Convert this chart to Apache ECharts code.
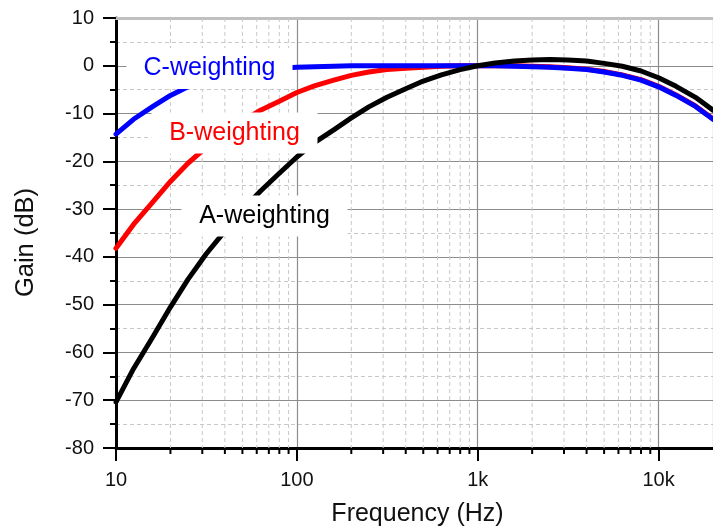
<!DOCTYPE html>
<html>
<head>
<meta charset="utf-8">
<script src="https://cdn.jsdelivr.net/npm/echarts@6/dist/echarts.min.js"></script>
<style>
  html, body { margin: 0; padding: 0; background: #fff; }
  #chart { width: 713px; height: 530px; }
</style>
</head>
<body>
<div id="chart"></div>
<script>
// One-third-octave band centre frequencies (Hz)
const freqs = [10, 12.5, 16, 20, 25, 31.5, 40, 50, 63, 80, 100, 125, 160, 200, 250, 315,
  400, 500, 630, 800, 1000, 1250, 1600, 2000, 2500, 3150, 4000, 5000, 6300, 8000,
  10000, 12500, 16000, 20000];

// Relative gain of each weighting curve (dB)
const aWeighting = [-70.4, -63.4, -56.7, -50.5, -44.7, -39.4, -34.6, -30.2, -26.2, -22.5,
  -19.1, -16.1, -13.4, -10.9, -8.6, -6.6, -4.8, -3.2, -1.9, -0.8,
  0, 0.6, 1.0, 1.2, 1.3, 1.2, 1.0, 0.5, -0.1, -1.1,
  -2.5, -4.3, -6.6, -9.3];
const bWeighting = [-38.2, -33.2, -28.5, -24.2, -20.4, -17.1, -14.2, -11.6, -9.3, -7.4,
  -5.6, -4.2, -3.0, -2.0, -1.3, -0.8, -0.5, -0.3, -0.1, 0,
  0, 0, 0, -0.1, -0.2, -0.4, -0.7, -1.2, -1.9, -2.9,
  -4.3, -6.1, -8.4, -11.1];
const cWeighting = [-14.3, -11.2, -8.5, -6.2, -4.4, -3.0, -2.0, -1.3, -0.8, -0.5,
  -0.3, -0.2, -0.1, 0, 0, 0, 0, 0, 0, 0,
  0, 0, -0.1, -0.2, -0.3, -0.5, -0.8, -1.3, -2.0, -3.0,
  -4.4, -6.2, -8.5, -11.2];

// Minor log-axis positions (2..9 in each decade)
const minorFreqs = [20, 30, 40, 50, 60, 70, 80, 90,
  200, 300, 400, 500, 600, 700, 800, 900,
  2000, 3000, 4000, 5000, 6000, 7000, 8000, 9000];

const xMin = 10, xMax = 20000, yMin = -80, yMax = 10;
const FONT = 'Liberation Sans, Arial, sans-serif';

const pairs = arr => freqs.map((f, i) => [f, arr[i]]);

const chart = echarts.init(document.getElementById('chart'), null, { renderer: 'canvas' });

// White-backed curve caption
function labelBox(cx, cy, text, color) {
  return {
    type: 'group', z: 100,
    children: [
      { type: 'rect', shape: { x: cx - 83, y: cy - 20.5, width: 166, height: 41 },
        style: { fill: '#fff' }, z: 100 },
      { type: 'text', x: cx, y: cy, z: 101,
        style: { text: text, fill: color, font: '25px ' + FONT, align: 'center', verticalAlign: 'middle' } }
    ]
  };
}

chart.setOption({
  animation: false,
  backgroundColor: '#fff',
  grid: { left: 116, right: -4.5, top: 18, bottom: 82, containLabel: false },
  xAxis: [{
    type: 'log', logBase: 10, min: xMin, max: xMax,
    axisLine: { show: true, onZero: false, lineStyle: { color: '#000', width: 3 } },
    axisTick: { show: true, length: 13, lineStyle: { color: '#000', width: 2 } },
    axisLabel: {
      margin: 22, fontSize: 20, color: '#111', fontFamily: FONT, showMaxLabel: false,
      formatter: v => v >= 1000 ? (v / 1000) + 'k' : String(v)
    },
    splitLine: { show: true, lineStyle: { color: '#8c8c8c', width: 1.2 } }
  }, {
    type: 'log', logBase: 10, min: xMin, max: xMax, position: 'top',
    axisLine: { show: true, onZero: false, lineStyle: { color: '#c0c0c0', width: 3 } },
    axisTick: { show: false }, axisLabel: { show: false }, splitLine: { show: false }
  }],
  yAxis: {
    type: 'value', min: yMin, max: yMax, interval: 10,
    axisLine: { show: true, onZero: false, lineStyle: { color: '#000', width: 3 } },
    axisTick: { show: true, length: 13, lineStyle: { color: '#000', width: 2 } },
    minorTick: { show: true, splitNumber: 2, length: 6, lineStyle: { color: '#000', width: 2 } },
    axisLabel: { margin: 22, fontSize: 20, color: '#111', fontFamily: FONT },
    splitLine: { show: true, lineStyle: { color: '#8c8c8c', width: 1.2 } },
    minorSplitLine: { show: true, lineStyle: { color: '#c8c8c8', width: 1, type: [4, 3] } }
  },
  graphic: [
    { type: 'text', x: 417.5, y: 514, z: 50,
      style: { text: 'Frequency (Hz)', fill: '#111', font: '25px ' + FONT, align: 'center', verticalAlign: 'middle' } },
    { type: 'text', x: 26, y: 242.5, rotation: Math.PI / 2, z: 50,
      style: { text: 'Gain (dB)', fill: '#111', font: '25.5px ' + FONT, align: 'center', verticalAlign: 'middle' } },
    labelBox(209.5, 68.5, 'C-weighting', '#0000ff'),
    labelBox(234.5, 133, 'B-weighting', '#ff0000'),
    labelBox(264.5, 216, 'A-weighting', '#000000')
  ],
  series: [
    {
      // minor vertical grid lines and minor ticks on the frequency axis
      type: 'custom', xAxisIndex: 0, z: 1, silent: true, clip: false,
      data: minorFreqs.map(f => [f]),
      encode: { x: 0 },
      renderItem: (params, api) => {
        const top = api.coord([api.value(0), yMax]);
        const bot = api.coord([api.value(0), yMin]);
        return {
          type: 'group',
          children: [
            { type: 'line', shape: { x1: top[0], y1: top[1], x2: bot[0], y2: bot[1] },
              style: { stroke: '#c8c8c8', lineWidth: 1, lineDash: [4, 3] } },
            { type: 'line', shape: { x1: bot[0], y1: bot[1], x2: bot[0], y2: bot[1] + 6 },
              style: { stroke: '#000', lineWidth: 2 } }
          ]
        };
      }
    },
    { name: 'B-weighting', type: 'line', data: pairs(bWeighting), showSymbol: false,
      z: 3, lineStyle: { color: '#ff0000', width: 5, join: 'round', cap: 'round' } },
    { name: 'C-weighting', type: 'line', data: pairs(cWeighting), showSymbol: false,
      z: 4, lineStyle: { color: '#0000ff', width: 5, join: 'round', cap: 'round' } },
    { name: 'A-weighting', type: 'line', data: pairs(aWeighting), showSymbol: false,
      z: 5, lineStyle: { color: '#000000', width: 5, join: 'round', cap: 'round' } }
  ]
});
</script>
</body>
</html>
